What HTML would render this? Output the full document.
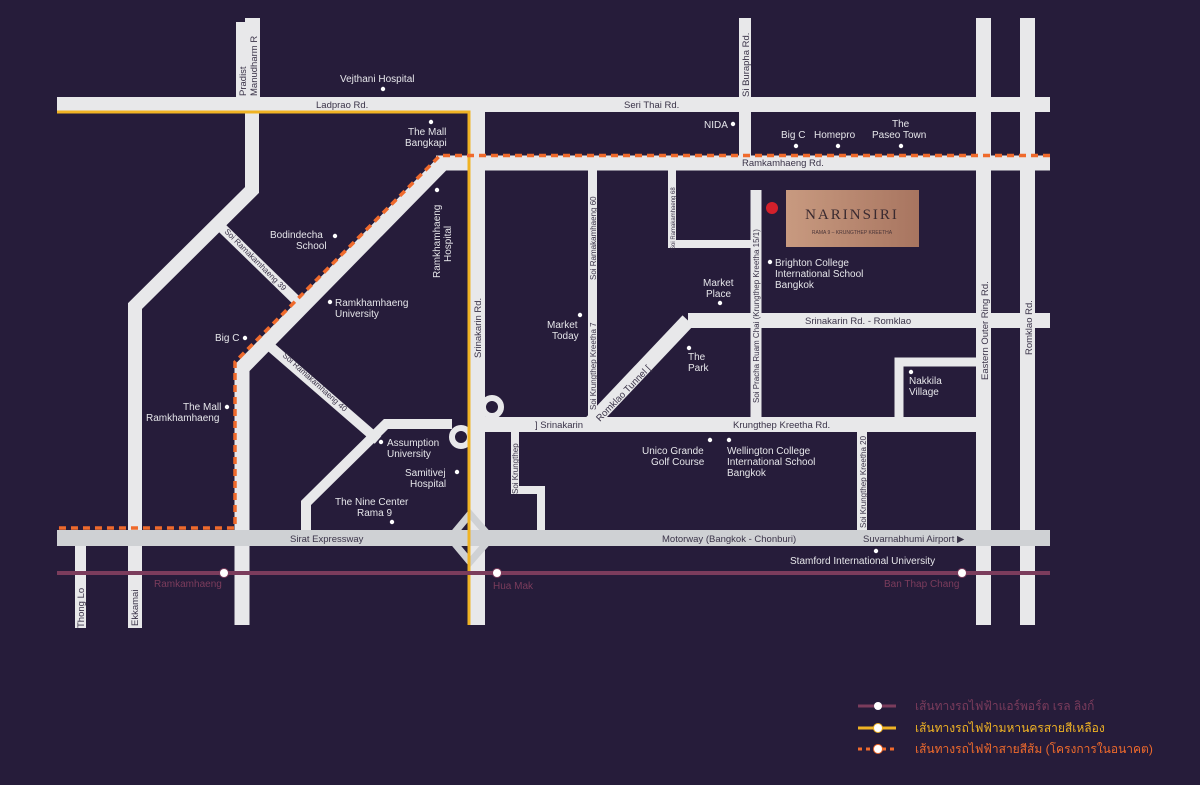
<!DOCTYPE html>
<html><head><meta charset="utf-8"><style>
html,body{margin:0;padding:0;background:#261c3a;}
svg{display:block}
text{font-family:"Liberation Sans",sans-serif;fill:#e6e6ea;font-size:10px}
.s{font-size:8px;fill:#3a3348}
.r{font-size:9.5px;fill:#3a3348}
.t{font-family:"Liberation Sans","Noto Sans CJK SC",sans-serif;font-size:12px}
</style></head><body>
<svg width="1200" height="785" viewBox="0 0 1200 785" xmlns="http://www.w3.org/2000/svg">
<rect width="1200" height="785" fill="#261c3a"/>
<g stroke="#e8e8ea" fill="none" stroke-linejoin="miter">
 <line x1="57" y1="104.5" x2="1050" y2="104.5" stroke-width="15"/>
 <line x1="436" y1="163" x2="1050" y2="163" stroke-width="15"/>
 <line x1="485" y1="424.5" x2="984" y2="424.5" stroke-width="15"/>
 <line x1="688" y1="320.5" x2="1050" y2="320.5" stroke-width="15"/>
 <line x1="477.5" y1="112" x2="477.5" y2="625" stroke-width="15"/>
 <line x1="983.5" y1="18" x2="983.5" y2="625" stroke-width="15"/>
 <line x1="1027.5" y1="18" x2="1027.5" y2="625" stroke-width="15"/>
 <line x1="745" y1="18" x2="745" y2="163" stroke-width="12"/>
 <polyline points="252,97 252,190 135,306 135,628" stroke-width="14"/>
 <line x1="80.5" y1="546" x2="80.5" y2="628" stroke-width="11"/>
 <polyline points="443,163 242,368 242,625" stroke-width="15"/>
 <line x1="592.5" y1="170" x2="592.5" y2="420" stroke-width="9"/>
 <polyline points="672,170 672,244 756,244" stroke-width="8"/>
 <line x1="756" y1="190" x2="756" y2="420" stroke-width="11"/>
 <polyline points="590,424 688,320.5" stroke-width="15"/>
 <polyline points="899,418 899,362 978,362" stroke-width="9"/>
 <line x1="862" y1="430" x2="862" y2="532" stroke-width="10"/>
 <polyline points="515,430 515,490 541,490 541,532" stroke-width="8"/>
 <line x1="222" y1="228" x2="298" y2="302" stroke-width="10"/>
 <line x1="265" y1="342" x2="378" y2="440" stroke-width="10"/>
 <polyline points="306,532 306,503 386,424 452,424" stroke-width="10"/>
 <circle cx="492" cy="407" r="9" stroke-width="6"/>
 <circle cx="461" cy="437" r="9" stroke-width="6"/>
 <polygon points="450,538 470,514 491,538 470,562" stroke="#cfd1d4" stroke-width="7"/>
</g>
<rect x="236" y="22" width="24" height="76" fill="#e8e8ea"/>
<rect x="245" y="18" width="15" height="6" fill="#e8e8ea"/>
<rect x="57" y="530" width="993" height="16" fill="#cfd1d4"/>
<polyline points="57,112 469,112 469,625" stroke="#f0b324" stroke-width="3" fill="none"/>
<polyline points="1050,155.5 440,155.5 235,362 235,528 57,528" stroke="#ef6a2c" stroke-width="3.5" fill="none" stroke-dasharray="7,5"/>
<line x1="57" y1="573" x2="1050" y2="573" stroke="#7b3c5c" stroke-width="4"/>
<g fill="#fff" stroke="#7b3c5c" stroke-width="1"><circle cx="224" cy="573" r="4.5"/><circle cx="497" cy="573" r="4.5"/><circle cx="962" cy="573" r="4.5"/></g>
<text x="154" y="587" style="fill:#7b3c5c">Ramkamhaeng</text><text x="493" y="589" style="fill:#7b3c5c">Hua Mak</text><text x="884" y="587" style="fill:#7b3c5c">Ban Thap Chang</text>
<text class="r" x="316" y="108">Ladprao Rd.</text>
<text class="r" x="624" y="108">Seri Thai Rd.</text>
<text class="r" x="742" y="166">Ramkamhaeng Rd.</text>
<text class="r" x="805" y="324">Srinakarin Rd. - Romklao</text>
<text class="r" x="733" y="428">Krungthep Kreetha Rd.</text>
<text class="r" x="535" y="428">] Srinakarin</text>
<text class="r" x="290" y="542">Sirat Expressway</text>
<text class="r" x="662" y="542">Motorway (Bangkok - Chonburi)</text>
<text class="r" x="863" y="542">Suvarnabhumi Airport ▶</text>
<text class="r" transform="translate(246,96) rotate(-90)">Pradist</text>
<text class="r" transform="translate(257,96) rotate(-90)">Manudharm R</text>
<text class="r" transform="translate(749,97) rotate(-90)">Si Burapha Rd.</text>
<text class="r" transform="translate(481,358) rotate(-90)">Srinakarin Rd.</text>
<text class="r" transform="translate(988,380) rotate(-90)">Eastern Outer Ring Rd.</text>
<text class="r" transform="translate(1032,355) rotate(-90)">Romklao Rd.</text>
<text class="r" transform="translate(84,628) rotate(-90)">Thong Lo</text>
<text class="r" transform="translate(138,626) rotate(-90)">Ekkamai</text>
<text class="s" transform="translate(596,410) rotate(-90)">Soi Krungthep Kreetha 7</text>
<text class="s" transform="translate(596,280) rotate(-90)">Soi Ramakamhaeng 60</text>
<text class="s" transform="translate(675,250) rotate(-90)" style="font-size:6px">Soi Ramakamhaeng 68</text>
<text class="s" transform="translate(759,403) rotate(-90)">Soi Pracha Ruam Chai (Krungthep Kreetha 15/1)</text>
<text class="s" transform="translate(866,528) rotate(-90)">Soi Krungthep Kreetha 20</text>
<text class="s" transform="translate(518,494) rotate(-90)">Soi Krungthep</text>
<text class="s" transform="translate(224,232) rotate(45)">Soi Ramakamhaeng 39</text>
<text class="s" transform="translate(282,356) rotate(42)">Soi Ramakamhaeng 40</text>
<text class="r" transform="translate(600,422) rotate(-46)">Romklao Tunnel [</text>
<g fill="#fff">
<circle cx="383" cy="89" r="2.2"/><circle cx="431" cy="122" r="2.2"/><circle cx="437" cy="190" r="2.2"/>
<circle cx="335" cy="236" r="2.2"/><circle cx="330" cy="302" r="2.2"/><circle cx="245" cy="338" r="2.2"/>
<circle cx="227" cy="407" r="2.2"/><circle cx="381" cy="442" r="2.2"/><circle cx="457" cy="472" r="2.2"/>
<circle cx="392" cy="522" r="2.2"/><circle cx="580" cy="315" r="2.2"/><circle cx="733" cy="124" r="2.2"/>
<circle cx="796" cy="146" r="2.2"/><circle cx="838" cy="146" r="2.2"/><circle cx="901" cy="146" r="2.2"/>
<circle cx="720" cy="303" r="2.2"/><circle cx="689" cy="348" r="2.2"/><circle cx="770" cy="262" r="2.2"/>
<circle cx="911" cy="372" r="2.2"/><circle cx="710" cy="440" r="2.2"/><circle cx="729" cy="440" r="2.2"/>
<circle cx="876" cy="551" r="2.2"/>
</g>
<text x="340" y="82">Vejthani Hospital</text>
<text x="408" y="135">The Mall</text><text x="405" y="146">Bangkapi</text>
<text x="270" y="238">Bodindecha</text><text x="296" y="249">School</text>
<text x="335" y="306">Ramkhamhaeng</text><text x="335" y="317">University</text>
<text x="215" y="341">Big C</text>
<text x="183" y="410">The Mall</text><text x="146" y="421">Ramkhamhaeng</text>
<text x="387" y="446">Assumption</text><text x="387" y="457">University</text>
<text x="405" y="476">Samitivej</text><text x="410" y="487">Hospital</text>
<text x="335" y="505">The Nine Center</text><text x="357" y="516">Rama 9</text>
<text x="547" y="328">Market</text><text x="552" y="339">Today</text>
<text transform="translate(440,278) rotate(-90)">Ramkhamhaeng</text>
<text transform="translate(451,262) rotate(-90)">Hospital</text>
<text x="704" y="128">NIDA</text>
<text x="781" y="138">Big C</text><text x="814" y="138">Homepro</text>
<text x="892" y="127">The</text><text x="872" y="138">Paseo Town</text>
<text x="703" y="286">Market</text><text x="706" y="297">Place</text>
<text x="688" y="360">The</text><text x="688" y="371">Park</text>
<text x="775" y="266">Brighton College</text><text x="775" y="277">International School</text><text x="775" y="288">Bangkok</text>
<text x="909" y="384">Nakkila</text><text x="909" y="395">Village</text>
<text x="642" y="454">Unico Grande</text><text x="651" y="465">Golf Course</text>
<text x="727" y="454">Wellington College</text><text x="727" y="465">International School</text><text x="727" y="476">Bangkok</text>
<text x="790" y="564">Stamford International University</text>
<defs><linearGradient id="g" x1="0" y1="0" x2="1" y2="0"><stop offset="0" stop-color="#c89a80"/><stop offset="1" stop-color="#a87560"/></linearGradient></defs>
<rect x="786" y="190" width="133" height="57" fill="url(#g)"/>
<circle cx="772" cy="208" r="6" fill="#d3202b"/>
<text x="852" y="219" text-anchor="middle" style="font-family:'Liberation Serif',serif;font-size:15px;fill:#3a2a30;letter-spacing:2px">NARINSIRI</text>
<text x="852" y="234" text-anchor="middle" style="font-size:5px;fill:#4a3538">RAMA 9 – KRUNGTHEP KREETHA</text>
<line x1="858" y1="706" x2="896" y2="706" stroke="#7b3c5c" stroke-width="3"/><circle cx="878" cy="706" r="4" fill="#fff"/>
<line x1="858" y1="728" x2="896" y2="728" stroke="#f0b324" stroke-width="3"/><circle cx="878" cy="728" r="4.5" fill="#fff" stroke="#f0b324"/>
<line x1="858" y1="749" x2="896" y2="749" stroke="#ef6a2c" stroke-width="3" stroke-dasharray="4,4"/><circle cx="878" cy="749" r="4.5" fill="#fff" stroke="#ef6a2c"/>
<text class="t" x="915" y="710" style="fill:#7b3c5c">เส้นทางรถไฟฟ้าแอร์พอร์ต เรล ลิงก์</text>
<text class="t" x="915" y="732" style="fill:#f0b324">เส้นทางรถไฟฟ้ามหานครสายสีเหลือง</text>
<text class="t" x="915" y="753" style="fill:#ef6a2c">เส้นทางรถไฟฟ้าสายสีส้ม (โครงการในอนาคต)</text>
</svg>
</body></html>
